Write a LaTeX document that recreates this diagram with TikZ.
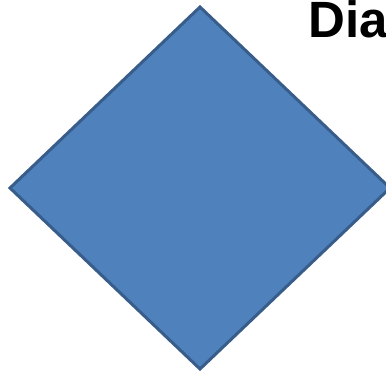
\documentclass[tikz,border=0pt]{standalone}
\usepackage{fontspec}
\setmainfont{Liberation Sans}
\usetikzlibrary{shapes.geometric}
\definecolor{shapefill}{HTML}{4F81BD}
\definecolor{shapeline}{HTML}{385D8A}
\tikzset{
  bigdiamond/.style={diamond, draw=shapeline, fill=shapefill, line width=3pt, inner sep=0pt, outer sep=0pt, minimum width=380pt, minimum height=362pt},
  titletext/.style={inner sep=0pt, anchor=base west, font=\fontsize{51pt}{55pt}\selectfont\bfseries, text=black}
}
\begin{document}
\begin{tikzpicture}[x=1pt,y=-1pt]
\useasboundingbox (0,0) rectangle (386,372);
\node[bigdiamond] (dia) at (200,188) {};
\node[titletext] (title) at (308,37.7) {Dia};
\end{tikzpicture}
\end{document}
